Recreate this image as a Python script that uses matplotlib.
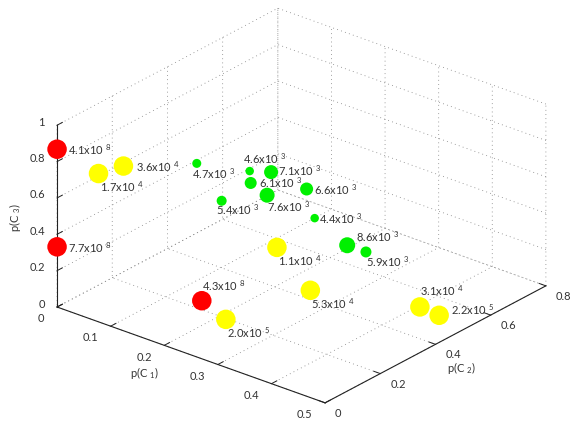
import matplotlib
matplotlib.use('Agg')
import matplotlib.pyplot as plt
from mpl_toolkits.mplot3d import proj3d

plt.rcParams['font.family'] = ['Lato', 'DejaVu Sans']
plt.rcParams['mathtext.default'] = 'regular'
plt.rcParams['font.size'] = 8
TEXT_COLOR = '#333333'

# values, one group per colour
red_c1 = [0.0, 0.0, 0.148]
red_c2 = [0.0, 0.0, 0.237]
red_c3 = [0.868, 0.331, 0.0]
red_labels = ['4.1x10$\\;^{8}$', '7.7x10$\\;^{8}$', '4.3x10$\\;^{8}$']

yellow_c1 = [0.014, 0.026, 0.196, 0.247, 0.214, 0.404, 0.443]
yellow_c2 = [0.123, 0.190, 0.416, 0.438, 0.196, 0.530, 0.524]
yellow_c3 = [0.65, 0.65, 0.2, 0.0, 0.0, 0.0, 0.0]
yellow_labels = ['1.7x10$\\;^{4}$', '3.6x10$\\;^{4}$', '1.1x10$\\;^{4}$', '5.3x10$\\;^{4}$',
                 '2.0x10$\\;^{5}$', '3.1x10$\\;^{4}$', '2.2x10$\\;^{5}$']

green_c1 = [0.083, 0.139, 0.165, 0.146, 0.221, 0.190, 0.132, 0.253, 0.308, 0.343]
green_c2 = [0.345, 0.428, 0.455, 0.418, 0.475, 0.392, 0.340, 0.442, 0.453, 0.453]
green_c3 = [0.6, 0.55, 0.55, 0.5, 0.5, 0.5, 0.45, 0.4, 0.3, 0.3]
green_labels = ['4.7x10$\\;^{3}$', '4.6x10$\\;^{3}$', '7.1x10$\\;^{3}$', '6.1x10$\\;^{3}$',
                '6.6x10$\\;^{3}$', '7.6x10$\\;^{3}$', '5.4x10$\\;^{3}$', '4.4x10$\\;^{3}$',
                '8.6x10$\\;^{3}$', '5.9x10$\\;^{3}$']

c1_ticks = [0, 0.1, 0.2, 0.3, 0.4, 0.5]
c2_ticks = [0, 0.2, 0.4, 0.6, 0.8]
c3_ticks = [0, 0.2, 0.4, 0.6, 0.8, 1]
c1_ticklabels = ['0', '0.1', '0.2', '0.3', '0.4', '0.5']
c2_ticklabels = ['0', '0.2', '0.4', '0.6', '0.8']
c3_ticklabels = ['0', '0.2', '0.4', '0.6', '0.8', '1']

# marker diameters in pixels and label offsets in pixels
green_diam = [9, 8.5, 14, 12, 13, 15, 10, 8.5, 16, 11]
BIG_DIAM = 19.5
red_off = [(11, -5), (10.6, -6), (0, 10.4)]
yellow_off = [(1.3, -18.4), (12.4, -5.6), (1.3, -18.4), (0.4, -18.4), (1, -18.4), (0.4, 11.7), (11.4, 0.6)]
green_off = [(-4.4, -15.4), (-6.7, 7.3), (7.3, -3.7), (8.3, -4.3), (7.3, -6), (0.3, -16.3),
             (-5.6, -13.6), (4.6, -5.3), (8.7, 3.6), (0.3, -14.7)]

W, H = 581, 429
SIDE = 515.6
fig = plt.figure(figsize=(W / 100, H / 100), dpi=100)
ax = fig.add_axes([36.7 / W, -41.3 / H, SIDE / W, SIDE / H], projection='3d')
ax.patch.set_alpha(0)
ax.set_proj_type('ortho')
ax.view_init(elev=25.8, azim=-50.6)
ax.set_box_aspect((347, 348, 202))
ax.set_xlim(0, 0.5)
ax.set_ylim(0, 0.8)
ax.set_zlim(0, 1)
ax.set_xticks(c1_ticks, [''] * len(c1_ticks))
ax.set_yticks(c2_ticks, [''] * len(c2_ticks))
ax.set_zticks(c3_ticks, [''] * len(c3_ticks))
ax.zaxis.set_ticks_position('lower')

for axis in (ax.xaxis, ax.yaxis, ax.zaxis):
    axis.set_pane_color((1, 1, 1, 0))
    axis.pane.set_edgecolor((1, 1, 1, 0))
    axis.line.set_color('#222222')
    axis.line.set_linewidth(0.8)
    axis._axinfo['grid'].update(color='#808080', linestyle=(0, (1, 4)), linewidth=0.6)
    axis._axinfo['tick'].update(inward_factor=0.0, outward_factor=0.3)
    axis._axinfo['tick']['linewidth'] = {True: 0.7, False: 0.7}
ax.tick_params(color='#222222')

proj = ax.get_proj()


def put_text(x, y, z, text, off, ha, va):
    px, py, _ = proj3d.proj_transform(x, y, z, proj)
    ax.annotate(text, xy=(px, py), xytext=off, textcoords='offset pixels', ha=ha, va=va,
                fontsize=8, color=TEXT_COLOR, annotation_clip=False)


# tick labels sit beside the axis the way matlab puts them, mplot3d pad can't do it
for v, lab in zip(c1_ticks, c1_ticklabels):
    put_text(v, 0, 0, lab, (-12.5, -11.8), 'right', 'center')
for v, lab in zip(c2_ticks, c2_ticklabels):
    put_text(0.5, v, 0, lab, (10, -10.5), 'left', 'center')
for v, lab in zip(c3_ticks, c3_ticklabels):
    put_text(0, 0, v, lab, (-12, 3), 'right', 'center')

groups = [
    (red_c1, red_c2, red_c3, '#ff0000', [BIG_DIAM] * 3, red_labels, red_off),
    (yellow_c1, yellow_c2, yellow_c3, '#ffff00', [BIG_DIAM] * 7, yellow_labels, yellow_off),
    (green_c1, green_c2, green_c3, '#00f000', green_diam, green_labels, green_off),
]
for c1, c2, c3, col, diam, labels, offs in groups:
    ax.scatter(c1, c2, c3, c=col, s=[(d * 0.72) ** 2 for d in diam], linewidths=0, depthshade=False, alpha=1)
    for x, y, z, lab, off in zip(c1, c2, c3, labels, offs):
        put_text(x, y, z, lab, off, 'left', 'baseline')

fig.text(145 / W, 1 - 373 / H, 'p(C$\\;_{1}$)', ha='center', va='center', fontsize=8, color=TEXT_COLOR)
fig.text(462 / W, 1 - 368 / H, 'p(C$\\;_{2}$)', ha='center', va='center', fontsize=8, color=TEXT_COLOR)
fig.text(15 / W, 1 - 217 / H, 'p(C$\\;_{3}$)', ha='center', va='center', rotation=90, fontsize=8, color=TEXT_COLOR)

fig.savefig('out.png', dpi=100)
